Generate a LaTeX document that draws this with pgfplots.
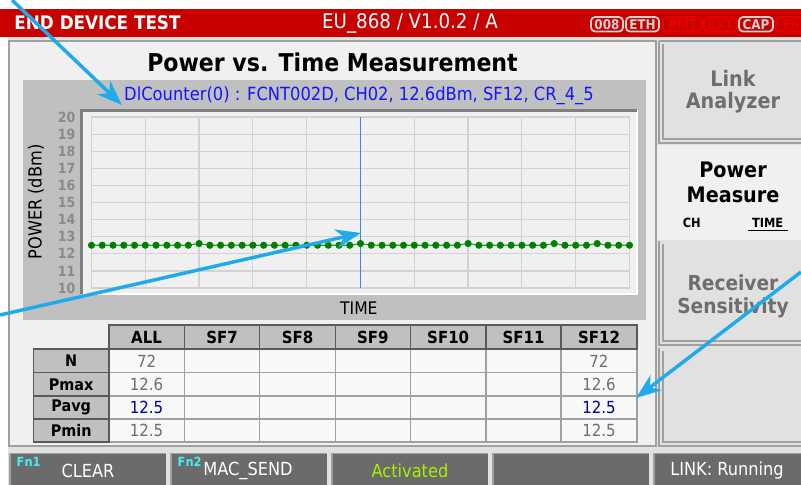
\documentclass[border=0pt]{standalone}
\usepackage{pgfplots}
\pgfplotsset{compat=1.18}
\usepackage{fontspec}
\setmainfont{DejaVu Sans Condensed}
\usetikzlibrary{arrows.meta}
\newcommand\F[1]{\fontsize{#1}{#1}\selectfont}
\definecolor{redbar}{HTML}{C80000}
\definecolor{panelbg}{HTML}{F0F0F0}
\definecolor{chartbg}{HTML}{C0C0C0}
\definecolor{framedark}{HTML}{7F7F7F}
\definecolor{gridc}{HTML}{D2D2D2}
\definecolor{tickgray}{HTML}{8A8A8A}
\definecolor{btnfill}{HTML}{E1E1E1}
\definecolor{btnborder}{HTML}{A0A0A0}
\definecolor{btntext}{HTML}{6E6E6E}
\definecolor{barcell}{HTML}{6B6B6B}
\definecolor{tablehead}{HTML}{C0C0C0}
\definecolor{tableborder}{HTML}{5A5A5A}
\definecolor{cellfill}{HTML}{F6F9F6}
\definecolor{cellborder}{HTML}{A0A0A0}
\definecolor{valgray}{HTML}{6E6E6E}
\definecolor{pavgblue}{HTML}{0000A0}
\definecolor{titleblue}{HTML}{1414FF}
\definecolor{arrowblue}{HTML}{1EAAEB}
\definecolor{dotgreen}{HTML}{008000}
\definecolor{activated}{HTML}{A8F000}
\definecolor{fncyan}{HTML}{40F0F0}
\definecolor{iconlight}{HTML}{D0D0D0}
\definecolor{icondark}{HTML}{E80000}
\definecolor{cursorblue}{HTML}{4A7FE0}
\begin{document}
\begin{tikzpicture}
\path[use as bounding box] (0,0) rectangle (600.75pt,-363.75pt);
\begin{scope}[x=0.75pt,y=-0.75pt]
\fill[white] (0,0) rectangle (801,485);
% top bar
\fill[redbar] (0,9) rectangle (801,37);
\node[white,font=\bfseries\F{14}] at (97.5,23) {END DEVICE TEST};
\node[white,font=\F{15.2}] at (410,23) {EU\_868 / V1.0.2 / A};
\foreach \a/\b/\t/\c in {591/623/008/iconlight,626/659/ETH/iconlight,663/702/RMT/icondark,704/737/EXT/icondark,739/773/CAP/iconlight,776/806/Fn/icondark}{
  \draw[\c,line width=1.3pt,rounded corners=3pt] (\a,17) rectangle (\b,31.5);
  \node[\c,font=\bfseries\F{10}] at ({(\a+\b)/2},24.3) {\t};
}
% main left panel
\fill[btnfill] (0,37) rectangle (801,485);
\fill[white] (0,37) rectangle (8,485);
\fill[panelbg] (8,40) rectangle (657,447);
\draw[btnborder,line width=2pt] (9,41) rectangle (656,446);
\node[font=\bfseries\F{18.4}] at (332.5,62) {Power vs. Time Measurement};
% chart grey area
\fill[chartbg] (22.7,80) rectangle (646,320);
% plot frame
\fill[panelbg] (81.5,110.5) rectangle (637,294);
\draw[white,line width=1.5pt] (637,110.5) -- (637,294) -- (81.5,294);
\draw[framedark,line width=2pt] (81.5,294) -- (81.5,110.5) -- (637,110.5);
\node[titleblue,font=\F{13.6}] at (359,96) {DlCounter(0) : FCNT002D, CH02, 12.6dBm, SF12, CR\_4\_5};
% table
\foreach \xa/\xb in {109/184.3,184.3/259.7,259.7/335.4,335.4/410.4,410.4/486.1,486.1/561,561/637}{
  \foreach \ya/\yb in {349/372.5,372.5/396,396/419,419/442}{
    \draw[cellborder,fill=cellfill,line width=1pt] (\xa,\ya) rectangle (\xb,\yb);
  }
  \draw[tableborder,fill=tablehead,line width=1pt] (\xa,325) rectangle (\xb,349);
}
\foreach \ya/\yb in {349/372.5,372.5/396,396/419,419/442}{
  \draw[tableborder,fill=tablehead,line width=1pt] (33.5,\ya) rectangle (109,\yb);
}
\foreach \x/\t in {146.6/ALL,222/SF7,297.5/SF8,372.9/SF9,448.2/SF10,523.5/SF11,599/SF12}{
  \node[font=\bfseries\F{12.5}] at (\x,337.5) {\t};
}
\foreach \y/\t in {361/N,384.5/Pmax,407.5/Pavg,430.5/Pmin}{
  \node[font=\bfseries\F{12}] at (71.2,\y) {\t};
}
\foreach \x in {146.6,599}{
  \node[valgray,font=\F{12.5}] at (\x,361) {72};
  \node[valgray,font=\F{12.5}] at (\x,384.5) {12.6};
  \node[pavgblue,font=\F{12.5}] at (\x,407.5) {12.5};
  \node[valgray,font=\F{12.5}] at (\x,430.5) {12.5};
}
% right panel buttons
\fill[btnfill] (657,40) rectangle (801,447);
\fill[panelbg] (657,145) rectangle (801,240);
\foreach \ya/\yb in {40/144,240/346,347/447}{
  \draw[btnborder,line width=2pt] (659,\ya+1) -- (659,\yb-1) -- (801,\yb-1);
  \draw[btnborder,line width=1pt] (663,\ya+4) -- (663,\yb-5) -- (801,\yb-5);
}
\draw[btnborder,line width=2pt] (659,41) -- (801,41);
\node[btntext,font=\bfseries\F{16}] at (733,78) {Link};
\node[btntext,font=\bfseries\F{16}] at (733,103) {Analyzer};
\node[font=\bfseries\F{16}] at (733,170) {Power};
\node[font=\bfseries\F{16}] at (733,195) {Measure};
\node[font=\bfseries\F{9.5}] at (691.7,222.5) {CH};
\node[font=\bfseries\F{9.5}] at (767.7,222.5) {TIME};
\draw[line width=1.2pt] (748,230.5) -- (788,230.5);
\node[btntext,font=\bfseries\F{15.5}] at (733,283) {Receiver};
\node[btntext,font=\bfseries\F{15.5}] at (733,308) {Sensitivity};
% bottom bar
\fill[btnfill] (0,447) rectangle (801,485);
\fill[white] (0,447) rectangle (8,485);
\foreach \a/\b in {10/166,171/327,332/488,493/649,654/801}{
  \fill[barcell] (\a,453) rectangle (\b,485);
  \draw[btnborder,line width=1pt] (\a,485) -- (\a,453.5) -- (\b,453.5);
}
\node[fncyan,font=\bfseries\F{9.5},anchor=west] at (12,462) {Fn1};
\node[white,font=\F{13.5}] at (88,471) {CLEAR};
\node[fncyan,font=\bfseries\F{9.5},anchor=west] at (173,462) {Fn2};
\node[white,font=\F{13.5}] at (248,471) {MAC\_SEND};
\node[activated,font=\F{13.5}] at (410,471) {Activated};
\node[white,font=\F{13.5}] at (727,471) {LINK: Running};
\end{scope}
\begin{axis}[
  at={(68.625pt,-216pt)}, anchor=south west,
  width=403.5pt, height=128.25pt, scale only axis,
  xmin=0, xmax=50, ymin=10, ymax=20,
  xtick={0,5,...,50}, xticklabels={},
  ytick={10,11,...,20},
  grid=major,
  major grid style={draw=gridc, line width=0.9pt},
  axis line style={draw=gridc, line width=0.9pt},
  major tick length=0pt,
  /pgf/number format/assume math mode=true,
  yticklabel style={font=\bfseries\F{10.5}, text=tickgray, xshift=-8.5pt},
  xlabel={TIME},
  xlabel style={at={(axis description cs:0.497,-0.117)}, anchor=center, font=\F{13}},
  ylabel={POWER (dBm)},
  ylabel style={at={(axis description cs:-0.103,0.503)}, anchor=center, rotate=0, font=\F{13.5}},
  clip=false,
]
\addplot[cursorblue, line width=1pt] coordinates {(25,10) (25,20)};
\addplot[dotgreen!80!white, line width=0.8pt, mark=*, mark size=2.25pt,
  mark options={fill=dotgreen, draw=dotgreen}] coordinates {
(0,12.5) (1,12.5) (2,12.5) (3,12.5) (4,12.5) (5,12.5) (6,12.5) (7,12.5) (8,12.5) (9,12.5)
(10,12.6) (11,12.5) (12,12.5) (13,12.5) (14,12.5) (15,12.5) (16,12.5) (17,12.5) (18,12.5) (19,12.5)
(20,12.5) (21,12.5) (22,12.5) (23,12.5) (24,12.5) (25,12.6) (26,12.5) (27,12.5) (28,12.5) (29,12.5)
(30,12.5) (31,12.5) (32,12.5) (33,12.5) (34,12.5) (35,12.6) (36,12.5) (37,12.5) (38,12.5) (39,12.5)
(40,12.5) (41,12.5) (42,12.5) (43,12.6) (44,12.5) (45,12.5) (46,12.5) (47,12.6) (48,12.5) (49,12.5)
(50,12.5)};
\end{axis}
\begin{scope}[x=0.75pt,y=-0.75pt]
\draw[arrowblue,line width=2.6pt,-{Stealth[length=19pt,width=14pt,inset=6pt]}] (12,0) -- (122,105);
\draw[arrowblue,line width=2.6pt,-{Stealth[length=19pt,width=14pt,inset=6pt]}] (0,315) -- (361,233);
\draw[arrowblue,line width=2.6pt,-{Stealth[length=19pt,width=14pt,inset=6pt]}] (801,272) -- (636,398);
\end{scope}
\end{tikzpicture}
\end{document}
